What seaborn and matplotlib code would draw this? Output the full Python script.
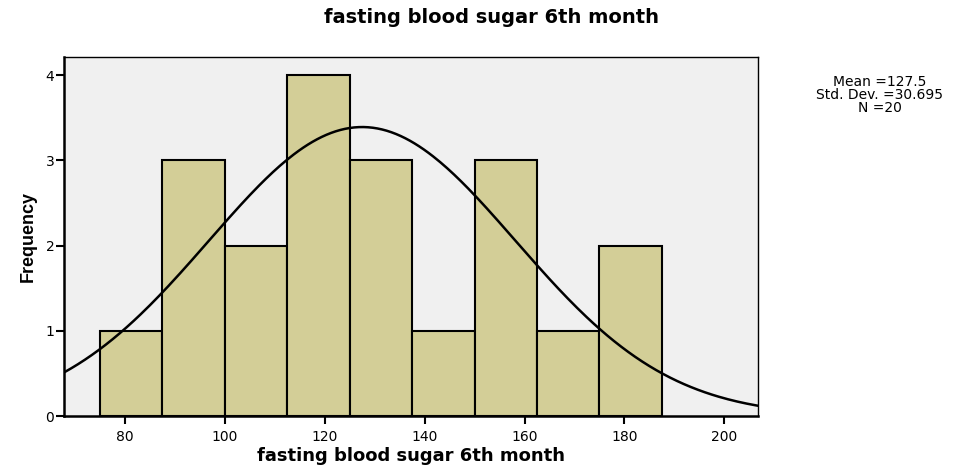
import numpy as np
import matplotlib
matplotlib.use("Agg")
import matplotlib.pyplot as plt
import seaborn as sns

# Histogram of fasting blood sugar at 6th month (SPSS style)
bin_edges = [75, 87.5, 100, 112.5, 125, 137.5, 150, 162.5, 175, 187.5]
counts = [1, 3, 2, 4, 3, 1, 3, 1, 2]
mean_val = 127.5
sd_val = 30.695
n_val = 20
curve_area = 260.8  # N * bin width as drawn by SPSS (read from peak ~3.39)

title = "fasting blood sugar 6th month"
x_ticks = [80, 100, 120, 140, 160, 180, 200]
y_ticks = [0, 1, 2, 3, 4]

sns.set_style("white")
plt.rcParams["font.family"] = ["DejaVu Sans"]
plt.rcParams["text.color"] = "black"
plt.rcParams["axes.labelcolor"] = "black"
plt.rcParams["xtick.color"] = "black"
plt.rcParams["ytick.color"] = "black"

fig = plt.figure(figsize=(9.55, 4.68), dpi=100)
ax = fig.add_axes([0.067, 0.111, 0.727, 0.767])
ax.set_facecolor("#f0f0f0")

centers = [(a + b) / 2 for a, b in zip(bin_edges[:-1], bin_edges[1:])]
sns.histplot(x=centers, weights=counts, bins=bin_edges, ax=ax,
             color="#d3ce97", alpha=1, edgecolor="black", linewidth=1.5)

xs = np.linspace(67.8, 206.8, 300)
ys = curve_area * np.exp(-0.5 * ((xs - mean_val) / sd_val) ** 2) / (sd_val * np.sqrt(2 * np.pi))
sns.lineplot(x=xs, y=ys, ax=ax, color="black", linewidth=1.8)

ax.set_xlim(67.8, 206.8)
ax.set_ylim(0, 4.21)
ax.set_xticks(x_ticks)
ax.set_yticks(y_ticks)
ax.tick_params(axis="both", direction="out", length=6, width=1.5, labelsize=10,
               color="black", labelcolor="black", bottom=True, left=True)
ax.tick_params(axis="y", pad=1)
ax.tick_params(axis="x", pad=4)
for s in ["left", "bottom"]:
    ax.spines[s].set_linewidth(1.8)
for s in ["top", "right"]:
    ax.spines[s].set_linewidth(1.0)
for s in ax.spines.values():
    s.set_color("black")

ax.set_xlabel(title, fontsize=13, fontweight="bold", labelpad=2)
ax.set_ylabel("Frequency", fontsize=13, fontweight="bold", labelpad=6,
              family=["Liberation Sans Narrow", "Liberation Sans", "DejaVu Sans"])
fig.text(0.515, 0.963, title, fontsize=14, fontweight="bold", ha="center", va="center")

fig.text(0.921, 0.797, f"Mean ={mean_val}\nStd. Dev. ={sd_val}\nN ={n_val}",
         fontsize=10, ha="center", va="center", linespacing=0.9)

fig.savefig("out.png", dpi=100)
